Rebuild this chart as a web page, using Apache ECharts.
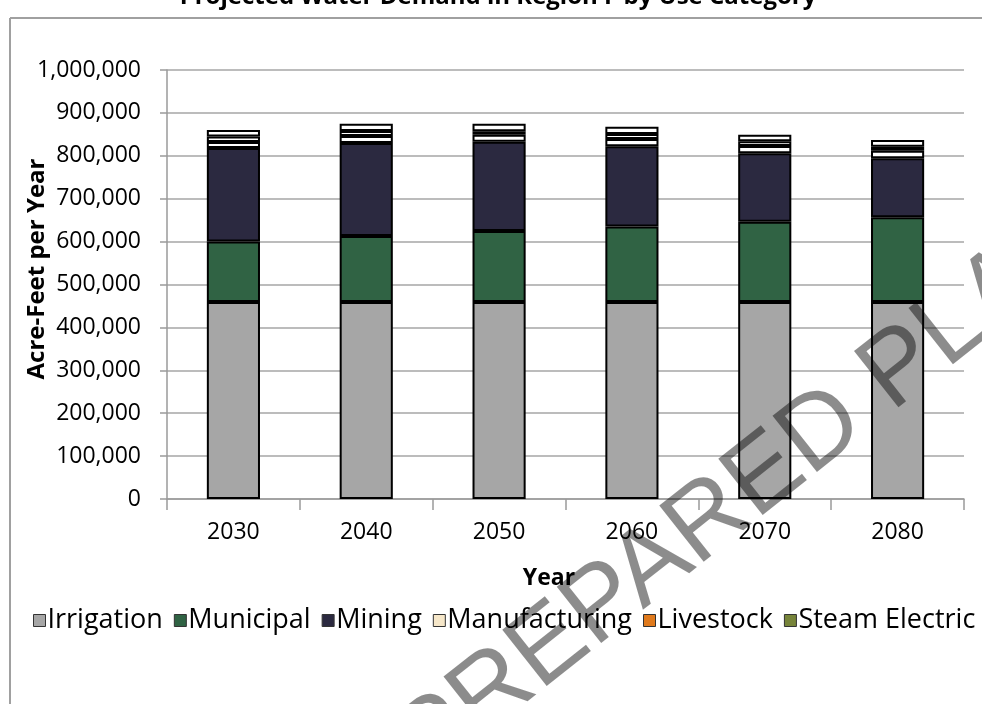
<!DOCTYPE html>
<html>
<head>
<meta charset="utf-8">
<script src="https://cdn.jsdelivr.net/npm/echarts@6/dist/echarts.min.js"></script>
<style>
  html, body { margin: 0; padding: 0; background: #fff; }
  #chart { width: 982px; height: 704px; }
</style>
</head>
<body>
<div id="chart"></div>
<script>
// Decade categories and projected demand by use (acre-feet per year)
const years = ['2030', '2040', '2050', '2060', '2070', '2080'];
const irrigation    = [459000, 459000, 459000, 459000, 459000, 459000];
const municipal     = [141000, 154000, 166000, 176000, 187000, 198000];
const mining        = [218000, 217000, 208000, 187000, 160000, 137000];
const manufacturing = [14000, 16000, 16000, 17000, 17000, 18000];
const livestock     = [13000, 12000, 8000, 12000, 11000, 9000];
const steamElectric = [15000, 17000, 18000, 17000, 15000, 16000];

const yTicks = { min: 0, max: 1000000, step: 100000 };

const FONT = '"Open Sans", "Liberation Sans", sans-serif';

const seriesDefs = [
  { name: 'Irrigation',     data: irrigation,    fill: '#a6a6a6', key: '#a6a6a6' },
  { name: 'Municipal',      data: municipal,     fill: '#306344', key: '#306344' },
  { name: 'Mining',         data: mining,        fill: '#2b2940', key: '#2b2940' },
  { name: 'Manufacturing',  data: manufacturing, fill: '#ffffff', key: '#f6e7c9' },
  { name: 'Livestock',      data: livestock,     fill: '#ffffff', key: '#e07a1c' },
  { name: 'Steam Electric', data: steamElectric, fill: '#ffffff', key: '#77843a' }
];

const chart = echarts.init(document.getElementById('chart'), null, { renderer: 'canvas' });

const fmt = v => v.toString().replace(/\B(?=(\d{3})+(?!\d))/g, ',');

chart.setOption({
  animation: false,
  backgroundColor: '#ffffff',
  grid: { left: 167, right: 18, top: 70, bottom: 205, containLabel: false },
  legend: {
    left: 28,
    top: 602,
    icon: 'rect',
    itemWidth: 12,
    itemHeight: 12,
    itemGap: 11,
    textStyle: { fontFamily: FONT, fontSize: 27, color: '#000', padding: [0, 0, 0, -3] },
    data: seriesDefs.map(s => ({
      name: s.name,
      itemStyle: { color: s.key, borderColor: '#333', borderWidth: 1 }
    }))
  },
  xAxis: {
    type: 'category',
    data: years,
    boundaryGap: true,
    axisLine: { show: true, lineStyle: { color: '#9a9a9a', width: 1.5 } },
    axisTick: { show: true, interval: 0, length: 11, lineStyle: { color: '#9a9a9a', width: 1.5 } },
    axisLabel: { fontFamily: FONT, fontSize: 23, color: '#000', margin: 22 }
  },
  yAxis: {
    type: 'value',
    min: yTicks.min,
    max: yTicks.max,
    interval: yTicks.step,
    axisLine: { show: true, lineStyle: { color: '#9a9a9a', width: 1.5 } },
    axisTick: { show: true, length: 7, lineStyle: { color: '#9a9a9a', width: 1.5 } },
    axisLabel: { fontFamily: FONT, fontSize: 23, color: '#000', margin: 26, formatter: fmt },
    splitLine: { show: true, lineStyle: { color: '#a6a6a6', width: 1.5 } }
  },
  series: seriesDefs.map(s => ({
    name: s.name,
    type: 'bar',
    stack: 'demand',
    barWidth: '40%',
    data: s.data,
    itemStyle: { color: s.fill, borderColor: '#000', borderWidth: 2 },
    emphasis: { disabled: true }
  })),
  graphic: [
    // chart frame
    { type: 'line', shape: { x1: 10, y1: 18, x2: 10, y2: 704 }, style: { stroke: '#a0a0a0', lineWidth: 2 }, z: 1 },
    { type: 'line', shape: { x1: 10, y1: 18, x2: 982, y2: 18 }, style: { stroke: '#a0a0a0', lineWidth: 2 }, z: 1 },
    // title
    { type: 'text', x: 498, y: -15, style: {
        text: 'Projected Water Demand in Region F by Use Category',
        font: 'bold 24px ' + FONT, fill: '#000', textAlign: 'center', textVerticalAlign: 'top' } },
    // axis titles
    { type: 'text', x: 37, y: 269, rotation: Math.PI / 2, style: {
        text: 'Acre-Feet per Year', font: 'bold 24px ' + FONT, fill: '#000',
        textAlign: 'center', textVerticalAlign: 'middle' } },
    { type: 'text', x: 549, y: 578, style: {
        text: 'Year', font: 'bold 23px ' + FONT, fill: '#000',
        textAlign: 'center', textVerticalAlign: 'middle' } },
    // draft stamp
    { type: 'text', x: 748, y: 490, rotation: 0.67, z: 100, style: {
        text: 'PREPARED PLAN', font: '104px "Liberation Sans", sans-serif',
        fill: 'rgba(0,0,0,0.45)',
        textAlign: 'center', textVerticalAlign: 'middle' } }
  ]
});
</script>
</body>
</html>
